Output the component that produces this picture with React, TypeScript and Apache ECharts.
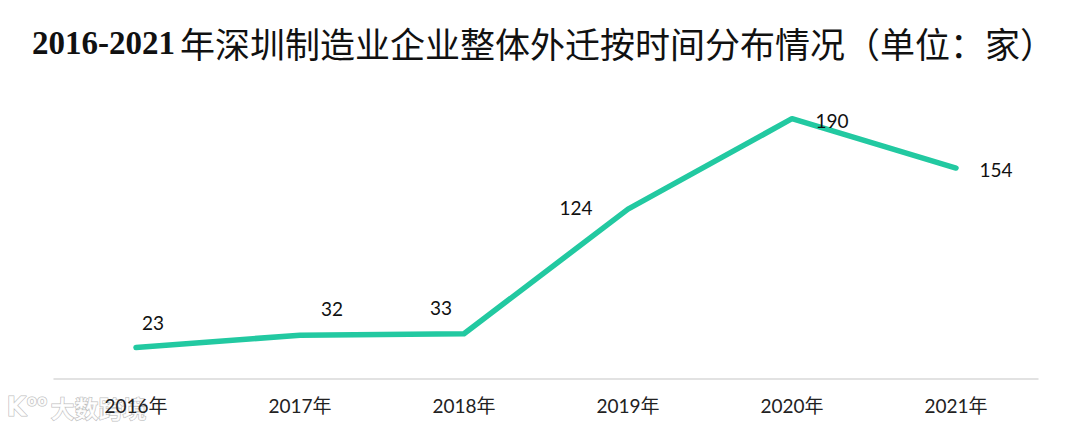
import React, { useEffect, useRef } from "react";
import * as echarts from "echarts";

const categories = ["2016年", "2017年", "2018年", "2019年", "2020年", "2021年"];
const values = [23, 32, 33, 124, 190, 154];
const labelOffsets: [number, number][] = [
  [17, -25],
  [32, -27],
  [-23, -26],
  [-52, -2],
  [40, 2],
  [40, 1],
];
const titleYears = "2016-2021";
const titleText = "年深圳制造业企业整体外迁按时间分布情况（单位：家）";
const watermark = "大数跨境";

export default function App() {
  const ref = useRef<HTMLDivElement>(null);
  useEffect(() => {
    if (!ref.current) return;
    const chart = echarts.init(ref.current, undefined, { renderer: "svg" });
    const wmStyle = {
      fill: "rgba(255,255,255,0.75)",
      stroke: "rgba(120,120,120,0.55)",
      lineWidth: 1,
    };
    chart.setOption({
      animation: false,
      backgroundColor: "#ffffff",
      title: {
        text: `{a|${titleYears}} {b|${titleText}}`,
        left: 27,
        top: 20,
        textStyle: {
          rich: {
            a: {
              fontFamily: "'Liberation Serif', 'DejaVu Serif', serif",
              fontWeight: "bold",
              fontSize: 33,
              color: "#111",
            },
            b: {
              fontFamily: "'Noto Sans CJK SC', sans-serif",
              fontWeight: "normal",
              fontSize: 35,
              color: "#111",
            },
          },
        },
      },
      grid: { left: 54, right: 42, top: 105, bottom: 56, containLabel: false },
      xAxis: {
        type: "category",
        data: categories,
        boundaryGap: true,
        axisLine: { lineStyle: { color: "#d9d9d9", width: 1.5 } },
        axisTick: { show: false },
        axisLabel: {
          margin: 17,
          fontSize: 19,
          color: "#222",
          fontFamily: "Lato, 'Noto Sans CJK SC', sans-serif",
        },
      },
      yAxis: { type: "value", min: 0, max: 200, show: false, splitLine: { show: false } },
      series: [
        {
          type: "line",
          data: values.map((v, i) => ({
            value: v,
            label: { offset: labelOffsets[i] },
          })),
          symbol: "circle",
          symbolSize: 2,
          itemStyle: { color: "#22c9a1" },
          lineStyle: { color: "#22c9a1", width: 5.5, cap: "round", join: "round" },
          label: {
            show: true,
            position: "inside",
            fontSize: 19,
            color: "#111",
            fontFamily: "Lato, 'Noto Sans', sans-serif",
          },
        },
      ],
      graphic: [
        {
          type: "text",
          left: 6,
          top: 393,
          style: {
            text: "{k|K}{o|oo} {t|" + watermark + "}",
            rich: {
              k: {
                fontSize: 26,
                fontWeight: "bold",
                fontFamily: "'DejaVu Sans', sans-serif",
                verticalAlign: "bottom",
                ...wmStyle,
              },
              o: {
                fontSize: 15,
                fontWeight: "bold",
                fontFamily: "'DejaVu Sans', sans-serif",
                verticalAlign: "top",
                ...wmStyle,
              },
              t: {
                fontSize: 24,
                fontWeight: "bold",
                fontFamily: "'Noto Sans CJK SC', sans-serif",
                verticalAlign: "bottom",
                ...wmStyle,
              },
            },
          },
        },
      ],
    });
    return () => chart.dispose();
  }, []);
  return (
    <div
      ref={ref}
      style={{ position: "fixed", left: 0, top: 0, width: 1080, height: 435 }}
    />
  );
}
